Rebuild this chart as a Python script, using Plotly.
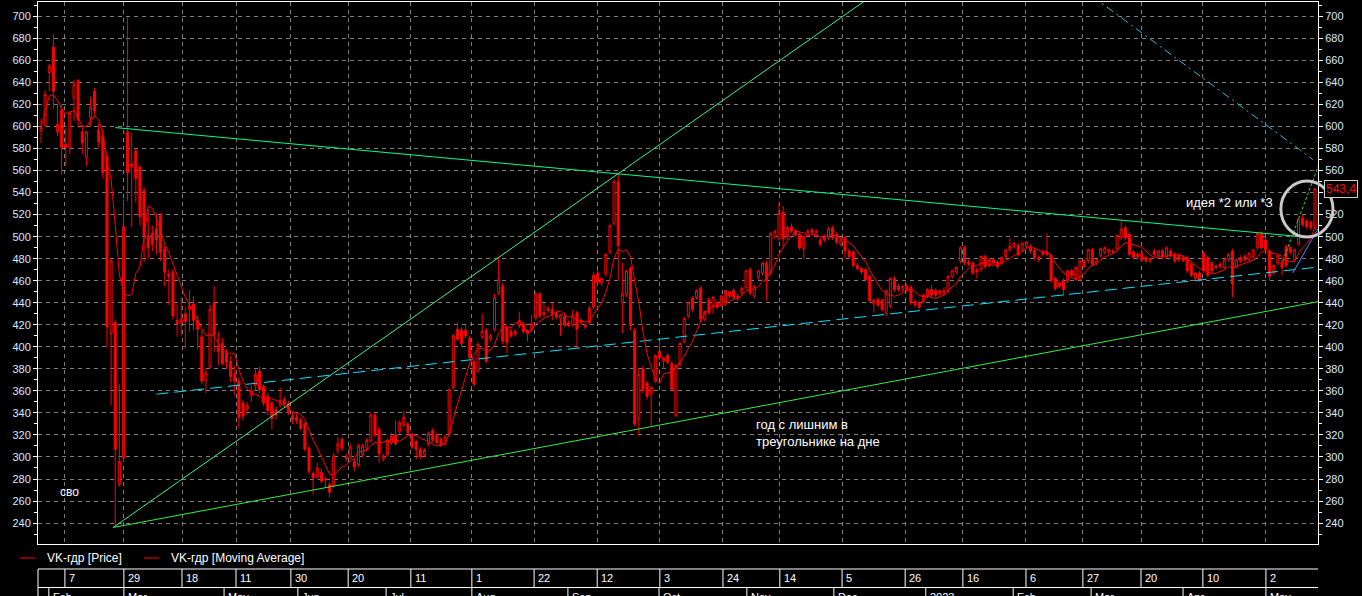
import pandas as pd
import plotly.graph_objects as go

# daily candles of VK-гдр, Feb 2022 .. May 2023 (one row = 10 sessions)
open_ = [
    596, 601, 649, 672, 595, 615, 584, 581, 626, 642,
    595, 572, 608, 632, 597, 591, 573, 412, 422, 275,
    299, 595, 563, 578, 563, 542, 501, 503, 507, 519,
    489, 466, 468, 424, 422, 430, 434, 439, 424, 409,
    369, 382, 440, 401, 403, 394, 387, 376, 369, 349,
    343, 356, 365, 378, 364, 355, 349, 343, 347, 352,
    349, 337, 336, 334, 330, 308, 285, 282, 286, 279,
    275, 274, 306, 316, 300, 300, 296, 293, 302, 308,
    315, 338, 325, 298, 302, 313, 320, 323, 329, 330,
    320, 314, 307, 302, 312, 324, 320, 316, 312, 321,
    363, 416, 415, 415, 408, 387, 378, 409, 415, 407,
    416, 449, 455, 418, 414, 411, 419, 421, 412, 416,
    426, 448, 429, 433, 434, 431, 426, 428, 422, 420,
    431, 422, 418, 422, 436, 467, 458, 466, 486, 512,
    550, 440, 448, 471, 415, 335, 380, 367, 357, 369,
    396, 387, 392, 385, 338, 384, 405, 428, 444, 445,
    453, 425, 443, 437, 440, 438, 440, 446, 451, 446,
    449, 454, 470, 446, 463, 467, 476, 467, 500, 498,
    522, 500, 509, 505, 502, 489, 501, 506, 501, 497,
    500, 499, 508, 502, 493, 499, 487, 486, 474, 471,
    470, 464, 439, 443, 442, 430, 437, 462, 455, 452,
    455, 454, 441, 440, 441, 446, 452, 451, 448, 448,
    450, 464, 468, 478, 490, 477, 476, 470, 470, 482,
    474, 479, 477, 476, 482, 488, 491, 492, 488, 491,
    491, 488, 481, 486, 486, 483, 462, 458, 460, 460,
    469, 462, 461, 478, 478, 488, 476, 483, 486, 486,
    486, 489, 499, 508, 502, 486, 484, 485, 481, 478,
    487, 483, 487, 482, 487, 484, 483, 481, 481, 475,
    462, 467, 485, 481, 476, 473, 475, 472, 479, 487,
    473, 481, 482, 479, 482, 490, 503, 497, 487, 467,
    476, 477, 491, 490, 479, 494, 517, 514, 513, 508,
]
high = [
    607, 633, 657, 684, 620, 620, 598, 614, 642, 643,
    601, 596, 627, 635, 603, 598, 578, 480, 425, 366,
    534, 699, 594, 580, 565, 545, 525, 510, 521, 521,
    492, 470, 471, 439, 445, 436, 452, 446, 428, 415,
    381, 438, 455, 414, 408, 398, 392, 383, 372, 352,
    350, 365, 380, 382, 366, 358, 351, 346, 363, 355,
    351, 341, 339, 336, 332, 310, 287, 295, 289, 282,
    277, 304, 318, 318, 303, 312, 298, 312, 312, 317,
    340, 340, 327, 303, 317, 322, 333, 333, 342, 332,
    322, 316, 309, 308, 323, 326, 322, 318, 320, 363,
    412, 422, 418, 420, 410, 390, 404, 430, 417, 412,
    448, 481, 458, 420, 418, 416, 432, 423, 416, 429,
    450, 450, 440, 437, 440, 433, 430, 431, 424, 434,
    433, 426, 421, 437, 468, 470, 463, 485, 511, 551,
    557, 476, 470, 473, 417, 381, 383, 369, 364, 393,
    405, 391, 394, 387, 385, 404, 427, 441, 446, 452,
    455, 433, 445, 446, 442, 447, 452, 451, 453, 448,
    455, 470, 472, 456, 470, 477, 478, 504, 506, 531,
    528, 510, 512, 507, 504, 501, 507, 508, 507, 499,
    502, 509, 510, 504, 499, 501, 489, 488, 476, 473,
    472, 466, 444, 445, 444, 452, 463, 464, 457, 456,
    457, 456, 443, 442, 448, 453, 456, 453, 452, 454,
    465, 470, 473, 491, 492, 479, 478, 472, 483, 484,
    480, 481, 479, 482, 489, 499, 495, 494, 495, 496,
    493, 490, 483, 488, 503, 485, 464, 460, 462, 470,
    471, 473, 479, 480, 489, 490, 480, 490, 491, 489,
    489, 502, 515, 510, 504, 488, 486, 487, 483, 481,
    489, 488, 489, 491, 489, 486, 485, 483, 483, 477,
    468, 469, 487, 483, 478, 475, 477, 481, 485, 489,
    480, 483, 484, 486, 489, 504, 505, 499, 489, 475,
    484, 479, 493, 492, 489, 517, 520, 516, 515, 544,
]
low = [
    585, 600, 632, 616, 591, 556, 564, 575, 605, 599,
    575, 564, 600, 608, 580, 553, 399, 347, 237, 273,
    296, 532, 509, 531, 510, 477, 480, 487, 484, 478,
    455, 438, 425, 409, 410, 399, 414, 415, 398, 366,
    358, 380, 395, 383, 383, 380, 368, 356, 326, 333,
    338, 350, 360, 358, 346, 338, 325, 334, 345, 345,
    338, 330, 330, 324, 305, 284, 266, 280, 276, 272,
    263, 272, 303, 305, 296, 298, 287, 291, 300, 306,
    313, 318, 295, 296, 300, 311, 310, 320, 327, 320,
    307, 298, 298, 300, 310, 313, 312, 309, 310, 319,
    361, 405, 400, 408, 388, 364, 376, 407, 385, 405,
    414, 447, 402, 394, 408, 409, 417, 412, 405, 414,
    424, 426, 427, 431, 424, 425, 410, 418, 418, 418,
    399, 420, 416, 420, 434, 456, 455, 464, 484, 510,
    460, 412, 445, 415, 328, 319, 358, 352, 328, 367,
    388, 380, 384, 360, 336, 382, 403, 426, 432, 443,
    422, 423, 429, 430, 434, 436, 438, 444, 443, 441,
    447, 452, 447, 444, 461, 465, 442, 465, 498, 496,
    490, 497, 503, 500, 488, 480, 499, 502, 499, 491,
    495, 497, 497, 493, 491, 480, 480, 472, 469, 466,
    459, 440, 431, 436, 432, 428, 435, 450, 450, 450,
    450, 438, 436, 434, 439, 444, 445, 445, 446, 446,
    448, 462, 466, 476, 474, 473, 465, 462, 468, 471,
    472, 475, 471, 474, 480, 486, 489, 482, 486, 489,
    485, 479, 477, 482, 482, 458, 451, 453, 446, 458,
    463, 460, 459, 471, 476, 473, 474, 481, 484, 484,
    484, 487, 497, 497, 482, 479, 480, 477, 476, 476,
    482, 481, 480, 480, 481, 476, 477, 477, 467, 463,
    460, 459, 467, 463, 467, 470, 471, 470, 477, 445,
    471, 476, 477, 477, 480, 488, 488, 486, 460, 465,
    474, 465, 472, 484, 477, 492, 509, 507, 506, 506,
]
close = [
    599, 629, 655, 632, 602, 581, 581, 612, 638, 606,
    585, 595, 617, 614, 586, 558, 418, 478, 307, 296,
    509, 558, 566, 553, 518, 501, 490, 493, 497, 486,
    468, 464, 428, 421, 425, 423, 437, 424, 416, 369,
    376, 434, 411, 396, 385, 386, 373, 369, 336, 337,
    347, 360, 375, 361, 349, 342, 335, 338, 351, 348,
    340, 334, 333, 326, 307, 287, 281, 290, 278, 280,
    268, 301, 312, 308, 299, 309, 291, 310, 310, 315,
    338, 320, 303, 301, 315, 319, 312, 331, 336, 322,
    309, 307, 300, 306, 321, 315, 313, 311, 318, 361,
    410, 407, 403, 410, 390, 366, 402, 414, 387, 410,
    445, 461, 405, 404, 410, 414, 424, 414, 415, 421,
    448, 428, 431, 435, 430, 427, 429, 420, 419, 429,
    416, 424, 420, 435, 465, 458, 462, 484, 510, 550,
    492, 448, 469, 419, 330, 375, 361, 355, 363, 392,
    390, 390, 386, 361, 383, 403, 426, 440, 434, 451,
    425, 432, 431, 445, 436, 446, 451, 450, 445, 444,
    453, 469, 449, 455, 469, 476, 460, 503, 505, 521,
    498, 508, 505, 502, 490, 500, 505, 504, 505, 493,
    497, 507, 499, 495, 497, 487, 482, 474, 471, 468,
    461, 442, 442, 438, 434, 451, 462, 452, 452, 455,
    452, 440, 438, 436, 447, 452, 447, 447, 451, 451,
    464, 469, 472, 490, 476, 475, 467, 468, 482, 473,
    479, 476, 473, 481, 488, 491, 494, 484, 494, 495,
    487, 481, 479, 484, 484, 460, 453, 455, 452, 469,
    465, 472, 478, 473, 488, 475, 478, 489, 490, 488,
    487, 501, 507, 499, 484, 481, 482, 479, 478, 480,
    484, 487, 482, 490, 483, 478, 479, 478, 469, 465,
    467, 461, 469, 465, 469, 472, 473, 479, 484, 457,
    479, 478, 479, 485, 488, 503, 490, 488, 464, 474,
    483, 472, 474, 486, 488, 516, 511, 509, 508, 543.4,
]
last_price = "543,4"

# date scale (positions are session numbers)
day_ticks = [5.8, 20.1, 34.2, 47.3, 60.6, 74.5, 89.7, 104.5, 119.6, 134.9, 150.1,
             165.4, 179.2, 194.3, 209.6, 223.6, 238.9, 252.7, 266.8, 281.8, 297.1]
day_labels = ["7", "29", "18", "11", "30", "20", "11", "1", "22", "12", "3",
              "24", "14", "5", "26", "16", "6", "27", "20", "10", "2"]
month_ticks = [1.9, 20.1, 44.4, 62.3, 83.7, 104.5, 127.8, 149.9, 171.2, 192.3,
               214.6, 235.8, 254.7, 277.0, 297.1]
month_labels = ["Feb", "Mar", "May", "Jun", "Jul", "Aug", "Sep", "Oct", "Nov", "Dec",
                "2023", "Feb", "Mar", "Apr", "May"]

# hand-drawn trend lines: (session, price) end points
upper_x, upper_y = [18, 305.5], [599, 500]
steep_x, steep_y = [17.5, 205], [236, 727.6]
lower_x, lower_y = [17.5, 310.5], [236, 441.5]
mid_x, mid_y = [28, 310.5], [357, 472.7]
top_x, top_y = [255, 308.5], [718.2, 570]
idea_x, idea_y = [301.2, 310], [478, 566]
blue_x, blue_y = [303.6, 309.7], [467, 507]

ma_period = 7
y_range = [221, 713]
idx = list(range(len(close)))
ma = pd.Series(close).rolling(ma_period, min_periods=1).mean()

RED = "#ff0000"
TXT = "#dde9ff"
FONT = "Liberation Sans"

fig = go.Figure()
fig.add_trace(go.Candlestick(
    x=idx, open=open_, high=high, low=low, close=close,
    increasing=dict(line=dict(color=RED, width=1), fillcolor="#000000"),
    decreasing=dict(line=dict(color=RED, width=1), fillcolor=RED),
    whiskerwidth=0, hoverinfo="skip", name="VK-гдр [Price]",
))
fig.add_trace(go.Scatter(x=idx, y=ma, mode="lines", line=dict(color=RED, width=1),
                         name="VK-гдр [Moving Average]", yaxis="y2"))

def trend(xs, ys, color, dash="solid", width=1):
    fig.add_trace(go.Scatter(x=xs, y=ys, mode="lines", hoverinfo="skip",
                             line=dict(color=color, width=width, dash=dash)))

trend(upper_x, upper_y, "#00ff80")
trend(steep_x, steep_y, "#40f090")
trend(lower_x, lower_y, "#33ee44")
trend(mid_x, mid_y, "#00e5ff", dash="12px,6px")
trend(top_x, top_y, "#30bde0", dash="8px,4px,2px,4px")
trend(idea_x, idea_y, "#22dd33", dash="3px,2px")
trend(blue_x, blue_y, "#3d8bff")

axis_common = dict(range=y_range, dtick=20, tick0=0, ticks="outside", ticklen=4,
                   tickcolor="white", showline=True, linecolor="white", zeroline=False,
                   tickfont=dict(family=FONT, size=11, color=TXT),
                   minor=dict(dtick=10, ticks="outside", ticklen=3, tickcolor="white"))

fig.update_layout(
    width=1362, height=596,
    margin=dict(l=38, r=44, t=2, b=52),
    paper_bgcolor="black", plot_bgcolor="black",
    showlegend=False,
    font=dict(family=FONT, size=11, color="white"),
    xaxis=dict(range=[-0.73, 309.73], tickvals=day_ticks, showticklabels=False, ticks="",
               showgrid=True, gridcolor="#7c7c7c", griddash="4px,4px",
               showline=True, mirror=True, linecolor="white", zeroline=False,
               rangeslider=dict(visible=False)),
    yaxis=dict(side="left", showgrid=True, gridcolor="#7c7c7c", griddash="4px,4px",
               **axis_common),
    yaxis2=dict(side="right", overlaying="y", showgrid=False, **axis_common),
)

# date rows under the chart
row1_top, row2_top, row_bottom = -0.0461, -0.0803, -0.12
line_w = dict(color="white", width=1)
for yy in (row1_top, row2_top):
    fig.add_shape(type="line", xref="paper", yref="paper", x0=0, x1=1, y0=yy, y1=yy, line=line_w)
fig.add_shape(type="line", xref="paper", yref="paper", x0=0, x1=0, y0=row1_top, y1=row_bottom, line=line_w)
for t, lab in zip(day_ticks, day_labels):
    fig.add_shape(type="line", xref="x", yref="paper", x0=t, x1=t, y0=row1_top, y1=row2_top, line=line_w)
    fig.add_annotation(x=t, y=(row1_top + row2_top) / 2, xref="x", yref="paper", text=lab,
                       showarrow=False, xanchor="left", yanchor="middle", xshift=2,
                       font=dict(family=FONT, size=11, color="white"))
for t, lab in zip(month_ticks, month_labels):
    fig.add_shape(type="line", xref="x", yref="paper", x0=t, x1=t, y0=row2_top, y1=row_bottom, line=line_w)
    fig.add_annotation(x=t, y=row2_top - 0.003, xref="x", yref="paper", text=lab,
                       showarrow=False, xanchor="left", yanchor="top", xshift=2,
                       font=dict(family=FONT, size=11, color="white"))

# legend drawn by hand (line keys like the terminal)
for x0, x1, xt, name in [(-0.0141, -0.0023, 0.0055, "VK-гдр [Price]"),
                         (0.0828, 0.0945, 0.1023, "VK-гдр [Moving Average]")]:
    fig.add_shape(type="line", xref="paper", yref="paper", x0=x0, x1=x1, y0=-0.0258, y1=-0.0258,
                  line=dict(color=RED, width=1))
    fig.add_annotation(x=xt, y=-0.0258, xref="paper", yref="paper", text=name, showarrow=False,
                       xanchor="left", yanchor="middle", font=dict(family=FONT, size=12, color="white"))

# notes on the chart
note_font = dict(family=FONT, size=13, color="white")
fig.add_annotation(x=277.2, y=530.9, text="идея *2 или *3", showarrow=False,
                   xanchor="left", yanchor="middle", font=note_font)
fig.add_annotation(x=173, y=322, text="год с лишним в<br>треугольнике на дне", showarrow=False,
                   xanchor="left", yanchor="middle", align="left", font=note_font)
fig.add_annotation(x=4.1, y=268, text="сво", showarrow=False, xanchor="left", yanchor="middle",
                   font=dict(family=FONT, size=12, color="white"))
fig.add_annotation(x=1.018, xref="paper", y=close[-1], yref="y", text=last_price, showarrow=False,
                   xanchor="center", yanchor="middle", bgcolor="black", bordercolor="#d0d0d0",
                   borderwidth=1, borderpad=1, font=dict(family=FONT, size=12, color=RED))
fig.add_shape(type="circle", xref="paper", yref="paper", x0=0.971, x1=1.0117, y0=0.5664, y1=0.6697,
              line=dict(color="#c8c8c8", width=3))

# the page's default body margin would push the fixed-size figure off by 8px
fig.write_html("out.html", config={"displayModeBar": False},
               post_script="document.body.style.margin='0';")
